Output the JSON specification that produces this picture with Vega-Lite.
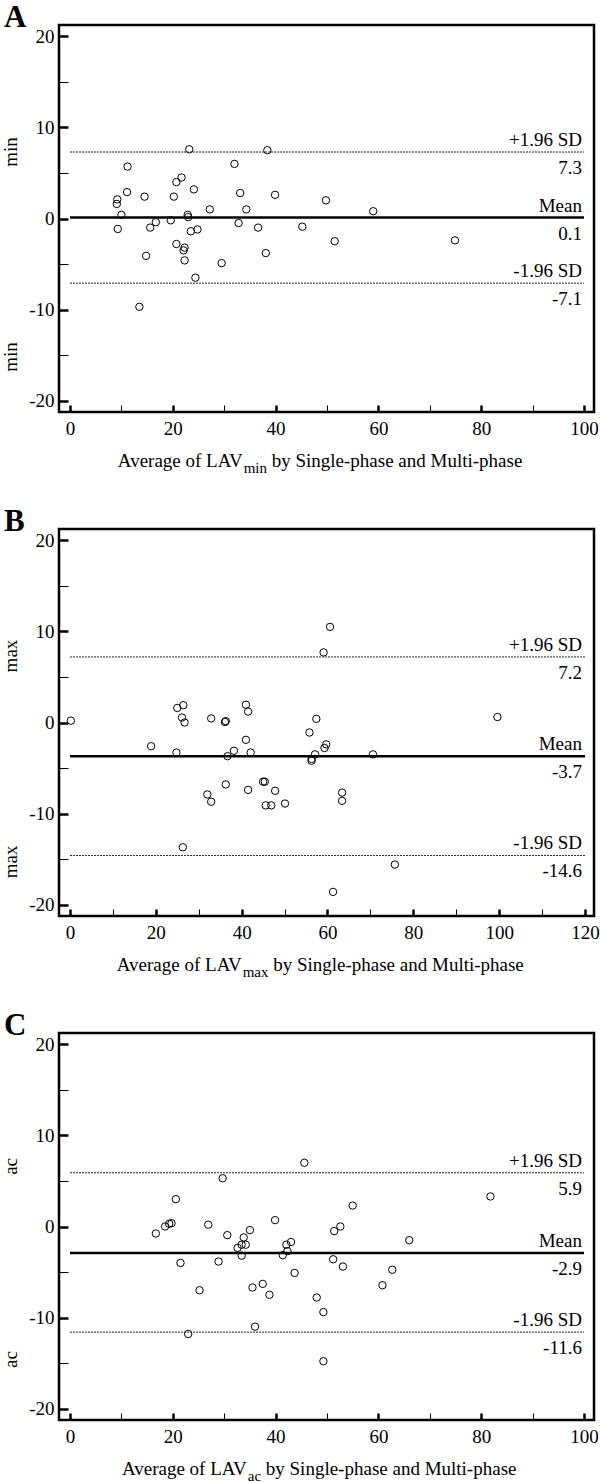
{
  "$schema": "https://vega.github.io/schema/vega-lite/v6.json",
  "padding": 0,
  "background": "white",
  "spacing": 117,
  "bounds": "flush",
  "config": {
    "font": "Liberation Serif",
    "view": {"stroke": "black", "strokeWidth": 2.5},
    "title": {"font": "Liberation Serif", "fontSize": 31, "fontWeight": "bold", "color": "black", "anchor": "start", "frame": "group", "dx": -55, "offset": -9, "baseline": "alphabetic"},
    "text": {"font": "Liberation Serif", "fontSize": 19, "color": "black"},
    "axis": {"domain": false, "grid": false, "tickColor": "black", "labelColor": "black", "labelFont": "Liberation Serif", "labelFontSize": 19, "labelFlush": false, "labelOverlap": false, "labelPadding": 14},
    "axisX": {"tickSize": -7},
    "axisY": {"tickSize": -9}
  },
  "datasets": {
    "ptsA": [
      {"avg": 9.2, "diff": 2.1}, {"avg": 9.1, "diff": 1.6}, {"avg": 11.2, "diff": 5.7}, {"avg": 11.1, "diff": 2.9},
      {"avg": 10.0, "diff": 0.4}, {"avg": 14.5, "diff": 2.4}, {"avg": 20.2, "diff": 2.4}, {"avg": 20.7, "diff": 4.0},
      {"avg": 21.7, "diff": 4.5}, {"avg": 23.2, "diff": 7.6}, {"avg": 24.1, "diff": 3.2}, {"avg": 22.9, "diff": 0.4},
      {"avg": 27.2, "diff": 1.0}, {"avg": 32.0, "diff": 6.0}, {"avg": 33.1, "diff": 2.8}, {"avg": 34.3, "diff": 1.0},
      {"avg": 38.4, "diff": 7.5}, {"avg": 39.9, "diff": 2.6}, {"avg": 9.3, "diff": -1.15}, {"avg": 14.8, "diff": -4.1},
      {"avg": 13.5, "diff": -9.7}, {"avg": 15.6, "diff": -1.0}, {"avg": 16.7, "diff": -0.4}, {"avg": 19.6, "diff": -0.2},
      {"avg": 20.7, "diff": -2.8}, {"avg": 22.3, "diff": -3.2}, {"avg": 22.1, "diff": -3.5}, {"avg": 22.3, "diff": -4.6},
      {"avg": 23.0, "diff": 0.15}, {"avg": 23.5, "diff": -1.4}, {"avg": 24.8, "diff": -1.2}, {"avg": 24.4, "diff": -6.5},
      {"avg": 29.5, "diff": -4.9}, {"avg": 32.8, "diff": -0.5}, {"avg": 36.6, "diff": -1.0}, {"avg": 38.1, "diff": -3.8},
      {"avg": 45.2, "diff": -0.9}, {"avg": 49.8, "diff": 2.0}, {"avg": 59.0, "diff": 0.8}, {"avg": 51.5, "diff": -2.5},
      {"avg": 74.9, "diff": -2.4}
    ],
    "ptsB": [
      {"avg": 0.2, "diff": 0.2}, {"avg": 18.9, "diff": -2.6}, {"avg": 25.0, "diff": 1.6}, {"avg": 26.4, "diff": 1.9},
      {"avg": 26.1, "diff": 0.55}, {"avg": 26.7, "diff": 0.0}, {"avg": 24.8, "diff": -3.3}, {"avg": 26.3, "diff": -13.7},
      {"avg": 32.9, "diff": 0.45}, {"avg": 36.1, "diff": 0.05}, {"avg": 36.3, "diff": 0.15}, {"avg": 32.0, "diff": -7.9},
      {"avg": 32.9, "diff": -8.7}, {"avg": 36.3, "diff": -6.8}, {"avg": 36.7, "diff": -3.7}, {"avg": 38.2, "diff": -3.1},
      {"avg": 41.0, "diff": 1.95}, {"avg": 41.5, "diff": 1.2}, {"avg": 41.0, "diff": -1.9}, {"avg": 42.1, "diff": -3.3},
      {"avg": 41.5, "diff": -7.4}, {"avg": 45.0, "diff": -6.5}, {"avg": 45.4, "diff": -6.5}, {"avg": 47.8, "diff": -7.5},
      {"avg": 45.6, "diff": -9.1}, {"avg": 46.9, "diff": -9.1}, {"avg": 50.1, "diff": -8.9}, {"avg": 55.8, "diff": -1.1},
      {"avg": 56.3, "diff": -4.2}, {"avg": 56.3, "diff": -4.0}, {"avg": 57.1, "diff": -3.5}, {"avg": 57.4, "diff": 0.4},
      {"avg": 60.6, "diff": 10.5}, {"avg": 59.1, "diff": 7.7}, {"avg": 59.7, "diff": -2.4}, {"avg": 59.3, "diff": -2.8},
      {"avg": 70.6, "diff": -3.5}, {"avg": 99.6, "diff": 0.6}, {"avg": 63.4, "diff": -7.7}, {"avg": 63.4, "diff": -8.6},
      {"avg": 75.7, "diff": -15.6}, {"avg": 61.3, "diff": -18.6}
    ],
    "ptsC": [
      {"avg": 20.6, "diff": 3.0}, {"avg": 29.7, "diff": 5.3}, {"avg": 45.6, "diff": 7.0}, {"avg": 16.7, "diff": -0.77},
      {"avg": 18.5, "diff": 0.0}, {"avg": 19.3, "diff": 0.3}, {"avg": 19.75, "diff": 0.36}, {"avg": 21.5, "diff": -4.0},
      {"avg": 25.2, "diff": -7.0}, {"avg": 23.0, "diff": -11.8}, {"avg": 26.9, "diff": 0.2}, {"avg": 28.9, "diff": -3.85},
      {"avg": 30.6, "diff": -0.95}, {"avg": 32.6, "diff": -2.35}, {"avg": 33.4, "diff": -2.0}, {"avg": 34.2, "diff": -2.0},
      {"avg": 33.8, "diff": -1.2}, {"avg": 35.0, "diff": -0.4}, {"avg": 33.4, "diff": -3.2}, {"avg": 35.5, "diff": -6.7},
      {"avg": 36.0, "diff": -11.0}, {"avg": 37.5, "diff": -6.3}, {"avg": 38.8, "diff": -7.5}, {"avg": 39.9, "diff": 0.7},
      {"avg": 41.4, "diff": -3.15}, {"avg": 42.1, "diff": -2.0}, {"avg": 42.3, "diff": -2.7}, {"avg": 43.0, "diff": -1.7},
      {"avg": 43.7, "diff": -5.1}, {"avg": 48.0, "diff": -7.8}, {"avg": 81.8, "diff": 3.3}, {"avg": 55.0, "diff": 2.3},
      {"avg": 52.6, "diff": 0.0}, {"avg": 51.4, "diff": -0.5}, {"avg": 51.2, "diff": -3.6}, {"avg": 53.1, "diff": -4.4},
      {"avg": 62.7, "diff": -4.75}, {"avg": 60.8, "diff": -6.45}, {"avg": 66.0, "diff": -1.5}, {"avg": 49.3, "diff": -9.4},
      {"avg": 49.3, "diff": -14.8}
    ],
    "linesA": [
      {"kind": "mean", "y": 0.1, "x0": 0, "x1": 100, "top": "Mean", "bottom": "0.1"},
      {"kind": "sd", "y": 7.3, "x0": 0, "x1": 100, "top": "+1.96 SD", "bottom": "7.3"},
      {"kind": "sd", "y": -7.1, "x0": 0, "x1": 100, "top": "-1.96 SD", "bottom": "-7.1"}
    ],
    "linesB": [
      {"kind": "mean", "y": -3.7, "x0": 0, "x1": 120, "top": "Mean", "bottom": "-3.7"},
      {"kind": "sd", "y": 7.2, "x0": 0, "x1": 120, "top": "+1.96 SD", "bottom": "7.2"},
      {"kind": "sd", "y": -14.6, "x0": 0, "x1": 120, "top": "-1.96 SD", "bottom": "-14.6"}
    ],
    "linesC": [
      {"kind": "mean", "y": -2.9, "x0": 0, "x1": 100, "top": "Mean", "bottom": "-2.9"},
      {"kind": "sd", "y": 5.9, "x0": 0, "x1": 100, "top": "+1.96 SD", "bottom": "5.9"},
      {"kind": "sd", "y": -11.6, "x0": 0, "x1": 100, "top": "-1.96 SD", "bottom": "-11.6"}
    ],
    "metaA": [
      {"x": -11.5, "y": 7.3, "t": "min"}, {"x": -11.5, "y": -15.2, "t": "min"}
    ],
    "metaB": [
      {"x": -13.75, "y": 7.3, "t": "max"}, {"x": -13.75, "y": -15.3, "t": "max"}
    ],
    "metaC": [
      {"x": -11.5, "y": 6.6, "t": "ac"}, {"x": -11.5, "y": -14.6, "t": "ac"}
    ],
    "titleA": [{"x": 33.6, "y": -27.3, "p1": "Average of LAV", "sub": "min", "p2": "by Single-phase and Multi-phase"}],
    "titleB": [{"x": 40.0, "y": -27.3, "p1": "Average of LAV", "sub": "max", "p2": "by Single-phase and Multi-phase"}],
    "titleC": [{"x": 34.4, "y": -27.3, "p1": "Average of LAV", "sub": "ac", "p2": "by Single-phase and Multi-phase"}]
  },
  "vconcat": [
    {
      "title": {"text": "A"},
      "width": 535, "height": 387,
      "layer": [
        {"data": {"name": "ptsA"}, "mark": {"type": "point", "shape": "circle", "filled": false, "stroke": "black", "strokeWidth": 1, "size": 55, "opacity": 1},
         "encoding": {
           "x": {"field": "avg", "type": "quantitative", "title": null, "scale": {"domain": [-2.14, 101.95], "nice": false, "zero": false},
                 "axis": {"values": [0, 10, 20, 30, 40, 50, 60, 70, 80, 90, 100], "labelExpr": "datum.value % 20 === 0 ? toString(datum.value) : ''", "tickWidth": {"condition": {"test": "datum.value % 20 === 0", "value": 2.5}, "value": 1}}},
           "y": {"field": "diff", "type": "quantitative", "title": null, "scale": {"domain": [-21.25, 21.25], "nice": false, "zero": false},
                 "axis": {"values": [-20, -15, -10, -5, 0, 5, 10, 15, 20], "labelExpr": "datum.value % 10 === 0 ? toString(datum.value) : ''", "tickWidth": {"condition": {"test": "datum.value % 10 === 0", "value": 2.5}, "value": 1}}}
         }},
        {"data": {"name": "linesA"}, "transform": [{"filter": "datum.kind === 'mean'"}], "mark": {"type": "rule", "color": "black", "strokeWidth": 2.5},
         "encoding": {"x": {"field": "x0", "type": "quantitative", "title": null}, "x2": {"field": "x1"}, "y": {"field": "y", "type": "quantitative", "title": null}}},
        {"data": {"name": "linesA"}, "transform": [{"filter": "datum.kind === 'sd'"}], "mark": {"type": "rule", "color": "#222", "strokeWidth": 1, "strokeDash": [2, 1]},
         "encoding": {"x": {"field": "x0", "type": "quantitative", "title": null}, "x2": {"field": "x1"}, "y": {"field": "y", "type": "quantitative", "title": null}}},
        {"data": {"name": "linesA"}, "mark": {"type": "text", "align": "right", "baseline": "alphabetic", "dy": -6, "dx": -2},
         "encoding": {"x": {"field": "x1", "type": "quantitative", "title": null}, "y": {"field": "y", "type": "quantitative", "title": null}, "text": {"field": "top"}}},
        {"data": {"name": "linesA"}, "mark": {"type": "text", "align": "right", "baseline": "alphabetic", "dy": 22, "dx": -2},
         "encoding": {"x": {"field": "x1", "type": "quantitative", "title": null}, "y": {"field": "y", "type": "quantitative", "title": null}, "text": {"field": "bottom"}}},
        {"data": {"name": "metaA"}, "mark": {"type": "text", "align": "center", "baseline": "middle", "angle": 270},
         "encoding": {"x": {"field": "x", "type": "quantitative", "title": null}, "y": {"field": "y", "type": "quantitative", "title": null}, "text": {"field": "t"}}},
        {"data": {"name": "titleA"}, "mark": {"type": "text", "align": "right", "baseline": "alphabetic"},
         "encoding": {"x": {"field": "x", "type": "quantitative", "title": null}, "y": {"field": "y", "type": "quantitative", "title": null}, "text": {"field": "p1"}}},
        {"data": {"name": "titleA"}, "mark": {"type": "text", "align": "left", "baseline": "alphabetic", "fontSize": 15, "dx": 1, "dy": 6},
         "encoding": {"x": {"field": "x", "type": "quantitative", "title": null}, "y": {"field": "y", "type": "quantitative", "title": null}, "text": {"field": "sub"}}},
        {"data": {"name": "titleA"}, "mark": {"type": "text", "align": "left", "baseline": "alphabetic", "dx": 29},
         "encoding": {"x": {"field": "x", "type": "quantitative", "title": null}, "y": {"field": "y", "type": "quantitative", "title": null}, "text": {"field": "p2"}}}
      ]
    },
    {
      "title": {"text": "B"},
      "width": 535, "height": 387,
      "layer": [
        {"data": {"name": "ptsB"}, "mark": {"type": "point", "shape": "circle", "filled": false, "stroke": "black", "strokeWidth": 1, "size": 55, "opacity": 1},
         "encoding": {
           "x": {"field": "avg", "type": "quantitative", "title": null, "scale": {"domain": [-2.56, 122.1], "nice": false, "zero": false},
                 "axis": {"values": [0, 10, 20, 30, 40, 50, 60, 70, 80, 90, 100, 110, 120], "labelExpr": "datum.value % 20 === 0 ? toString(datum.value) : ''", "tickWidth": {"condition": {"test": "datum.value % 20 === 0", "value": 2.5}, "value": 1}}},
           "y": {"field": "diff", "type": "quantitative", "title": null, "scale": {"domain": [-21.25, 21.25], "nice": false, "zero": false},
                 "axis": {"values": [-20, -15, -10, -5, 0, 5, 10, 15, 20], "labelExpr": "datum.value % 10 === 0 ? toString(datum.value) : ''", "tickWidth": {"condition": {"test": "datum.value % 10 === 0", "value": 2.5}, "value": 1}}}
         }},
        {"data": {"name": "linesB"}, "transform": [{"filter": "datum.kind === 'mean'"}], "mark": {"type": "rule", "color": "black", "strokeWidth": 2.5},
         "encoding": {"x": {"field": "x0", "type": "quantitative", "title": null}, "x2": {"field": "x1"}, "y": {"field": "y", "type": "quantitative", "title": null}}},
        {"data": {"name": "linesB"}, "transform": [{"filter": "datum.kind === 'sd'"}], "mark": {"type": "rule", "color": "#222", "strokeWidth": 1, "strokeDash": [2, 1]},
         "encoding": {"x": {"field": "x0", "type": "quantitative", "title": null}, "x2": {"field": "x1"}, "y": {"field": "y", "type": "quantitative", "title": null}}},
        {"data": {"name": "linesB"}, "mark": {"type": "text", "align": "right", "baseline": "alphabetic", "dy": -6, "dx": -3},
         "encoding": {"x": {"field": "x1", "type": "quantitative", "title": null}, "y": {"field": "y", "type": "quantitative", "title": null}, "text": {"field": "top"}}},
        {"data": {"name": "linesB"}, "mark": {"type": "text", "align": "right", "baseline": "alphabetic", "dy": 22, "dx": -3},
         "encoding": {"x": {"field": "x1", "type": "quantitative", "title": null}, "y": {"field": "y", "type": "quantitative", "title": null}, "text": {"field": "bottom"}}},
        {"data": {"name": "metaB"}, "mark": {"type": "text", "align": "center", "baseline": "middle", "angle": 270},
         "encoding": {"x": {"field": "x", "type": "quantitative", "title": null}, "y": {"field": "y", "type": "quantitative", "title": null}, "text": {"field": "t"}}},
        {"data": {"name": "titleB"}, "mark": {"type": "text", "align": "right", "baseline": "alphabetic"},
         "encoding": {"x": {"field": "x", "type": "quantitative", "title": null}, "y": {"field": "y", "type": "quantitative", "title": null}, "text": {"field": "p1"}}},
        {"data": {"name": "titleB"}, "mark": {"type": "text", "align": "left", "baseline": "alphabetic", "fontSize": 15, "dx": 1, "dy": 6},
         "encoding": {"x": {"field": "x", "type": "quantitative", "title": null}, "y": {"field": "y", "type": "quantitative", "title": null}, "text": {"field": "sub"}}},
        {"data": {"name": "titleB"}, "mark": {"type": "text", "align": "left", "baseline": "alphabetic", "dx": 31.5},
         "encoding": {"x": {"field": "x", "type": "quantitative", "title": null}, "y": {"field": "y", "type": "quantitative", "title": null}, "text": {"field": "p2"}}}
      ]
    },
    {
      "title": {"text": "C"},
      "width": 535, "height": 387,
      "layer": [
        {"data": {"name": "ptsC"}, "mark": {"type": "point", "shape": "circle", "filled": false, "stroke": "black", "strokeWidth": 1, "size": 55, "opacity": 1},
         "encoding": {
           "x": {"field": "avg", "type": "quantitative", "title": null, "scale": {"domain": [-2.14, 101.95], "nice": false, "zero": false},
                 "axis": {"values": [0, 10, 20, 30, 40, 50, 60, 70, 80, 90, 100], "labelExpr": "datum.value % 20 === 0 ? toString(datum.value) : ''", "tickWidth": {"condition": {"test": "datum.value % 20 === 0", "value": 2.5}, "value": 1}}},
           "y": {"field": "diff", "type": "quantitative", "title": null, "scale": {"domain": [-21.25, 21.25], "nice": false, "zero": false},
                 "axis": {"values": [-20, -15, -10, -5, 0, 5, 10, 15, 20], "labelExpr": "datum.value % 10 === 0 ? toString(datum.value) : ''", "tickWidth": {"condition": {"test": "datum.value % 10 === 0", "value": 2.5}, "value": 1}}}
         }},
        {"data": {"name": "linesC"}, "transform": [{"filter": "datum.kind === 'mean'"}], "mark": {"type": "rule", "color": "black", "strokeWidth": 2.5},
         "encoding": {"x": {"field": "x0", "type": "quantitative", "title": null}, "x2": {"field": "x1"}, "y": {"field": "y", "type": "quantitative", "title": null}}},
        {"data": {"name": "linesC"}, "transform": [{"filter": "datum.kind === 'sd'"}], "mark": {"type": "rule", "color": "#222", "strokeWidth": 1, "strokeDash": [2, 1]},
         "encoding": {"x": {"field": "x0", "type": "quantitative", "title": null}, "x2": {"field": "x1"}, "y": {"field": "y", "type": "quantitative", "title": null}}},
        {"data": {"name": "linesC"}, "mark": {"type": "text", "align": "right", "baseline": "alphabetic", "dy": -6, "dx": -2},
         "encoding": {"x": {"field": "x1", "type": "quantitative", "title": null}, "y": {"field": "y", "type": "quantitative", "title": null}, "text": {"field": "top"}}},
        {"data": {"name": "linesC"}, "mark": {"type": "text", "align": "right", "baseline": "alphabetic", "dy": 22, "dx": -2},
         "encoding": {"x": {"field": "x1", "type": "quantitative", "title": null}, "y": {"field": "y", "type": "quantitative", "title": null}, "text": {"field": "bottom"}}},
        {"data": {"name": "metaC"}, "mark": {"type": "text", "align": "center", "baseline": "middle", "angle": 270},
         "encoding": {"x": {"field": "x", "type": "quantitative", "title": null}, "y": {"field": "y", "type": "quantitative", "title": null}, "text": {"field": "t"}}},
        {"data": {"name": "titleC"}, "mark": {"type": "text", "align": "right", "baseline": "alphabetic"},
         "encoding": {"x": {"field": "x", "type": "quantitative", "title": null}, "y": {"field": "y", "type": "quantitative", "title": null}, "text": {"field": "p1"}}},
        {"data": {"name": "titleC"}, "mark": {"type": "text", "align": "left", "baseline": "alphabetic", "fontSize": 15, "dx": 1, "dy": 6},
         "encoding": {"x": {"field": "x", "type": "quantitative", "title": null}, "y": {"field": "y", "type": "quantitative", "title": null}, "text": {"field": "sub"}}},
        {"data": {"name": "titleC"}, "mark": {"type": "text", "align": "left", "baseline": "alphabetic", "dx": 19},
         "encoding": {"x": {"field": "x", "type": "quantitative", "title": null}, "y": {"field": "y", "type": "quantitative", "title": null}, "text": {"field": "p2"}}}
      ]
    }
  ]
}
